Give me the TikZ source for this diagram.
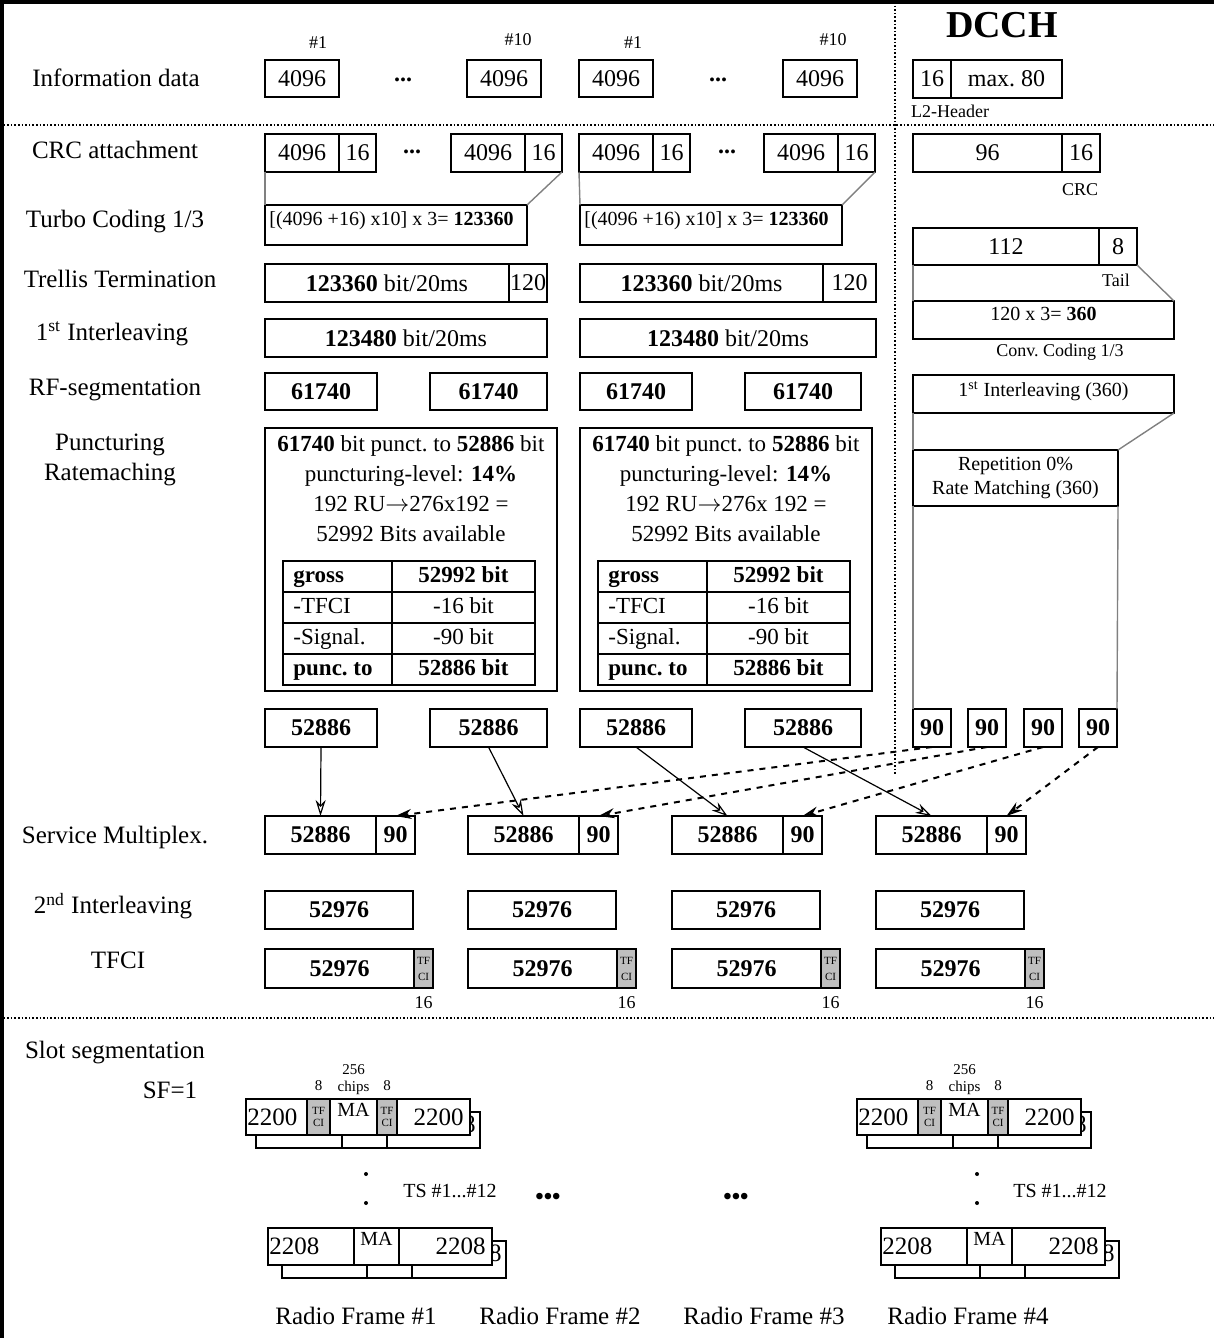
\documentclass[tikz,border=0pt]{standalone}
\usepackage{fontspec}
\setmainfont{Liberation Serif}
\usetikzlibrary{arrows.meta,positioning}

\tikzset{
  cell/.style 2 args={draw,line width=0.9pt,inner sep=0pt,outer sep=0pt,
    minimum width={(#1)*0.5pt},minimum height={(#2)*0.5pt},anchor=north west,
    font=\fontsize{12}{14}\selectfont},
  grey cell/.style={fill=black!25},
  bnum/.style={font=\fontsize{12}{14}\selectfont\bfseries},
  rowlab/.style={font=\fontsize{12.5}{15}\selectfont,align=center},
  tiny lab/.style={font=\fontsize{9}{10}\selectfont,inner sep=1pt},
  mini lab/.style={font=\fontsize{7.5}{8.5}\selectfont,inner sep=1pt,align=center},
  tf lab/.style={font=\fontsize{5.5}{6}\selectfont,align=center},
  note/.style={font=\fontsize{10}{12}\selectfont,inner sep=1pt,align=center},
  tabtxt/.style={font=\fontsize{11.5}{13}\selectfont,text height=8pt,text depth=2.5pt},
  slotnum/.style={font=\fontsize{12.5}{14}\selectfont,inner sep=0pt},
  guide/.style={draw=black!50,line width=0.7pt},
  sepline/.style={densely dotted,line width=0.8pt},
  flow/.style={-{Stealth[open,length=8pt,width=5pt]},line width=0.6pt},
  sig/.style={flow,dashed,line width=1pt}
}

\begin{document}
\begin{tikzpicture}[x=0.5pt,y=-0.5pt]
\useasboundingbox (0,0) rectangle (1214,1338);
% frame and dotted separators
\draw[line width=1.6pt] (2,1338) -- (2,2) -- (1214,2);
\draw[sepline] (0,125) -- (1214,125);
\draw[sepline] (0,1018) -- (1214,1018);
\draw[sepline] (895,2) -- (895,775);

% row labels
\node[rowlab] (l-info) at (116,78) {Information data};
\node[rowlab] (l-crc) at (115,150) {CRC attachment};
\node[rowlab] (l-turbo) at (115,222) {Turbo Coding 1/3};
\node[rowlab] (l-trel) at (120,279) {Trellis Termination};
\node[rowlab] (l-int1) at (112,334) {1\textsuperscript{st} Interleaving};
\node[rowlab] (l-rf) at (115,390) {RF-segmentation};
\node[rowlab] (l-punc) at (110,460) {Puncturing\\Ratemaching};
\node[rowlab] (l-mux) at (115,837) {Service Multiplex.};
\node[rowlab] (l-int2) at (113,906) {2\textsuperscript{nd} Interleaving};
\node[rowlab] (l-tfci) at (118,960) {TFCI};
\node[rowlab] (l-slot) at (115,1053) {Slot segmentation};
\node[rowlab] (l-sf) at (170,1090) {SF=1};

% information data and crc
\foreach \n/\x/\nr/\hx/\hy in {a1/265/1/318/43, a2/467/10/518/40, b1/579/1/633/43, b2/783/10/833/40}{
  \node[cell={74}{37}] (info-\n) at (\x,60) {4096};
  \node[tiny lab] (no-\n) at (\hx,\hy) {\#\nr};
}
\node[bnum] (dots-a) at (403,80) {...};
\node[bnum] (dots-b) at (718,80) {...};
\foreach \n/\x in {a1/265, a2/451, b1/579, b2/764}{
  \node[cell={74}{38}] (crc-\n) at (\x,134) {4096};
  \node[cell={37}{38},right=0pt of crc-\n] (crcx-\n) {16};
}
\node[bnum] (dots-c) at (412,152) {...};
\node[bnum] (dots-d) at (727,152) {...};

% two turbo coded chains
\foreach \c/\x/\w/\t/\ru in {a/265/244/38/{276x192}, b/580/243/53/{276x 192}}{
  \node[cell={262}{40}] (turbo-\c) at (\x,205) {};
  \node[note,anchor=north west] (turbo-\c-txt) at ([xshift=1pt,yshift=-2pt]turbo-\c.north west) {[(4096 +16) x10] x 3= \textbf{123360}};
  \node[cell={\w}{38}] (trel-\c) at (\x,264) {\textbf{123360} bit/20ms};
  \node[cell={\t}{38},right=0pt of trel-\c] (trelx-\c) {120};
  \node[cell={\w+\t}{38}] (int1-\c) at (\x,319) {\textbf{123480} bit/20ms};
  \node[cell={292}{263}] (punc-\c) at (\x,428) {};
  \node[anchor=north,align=center,font=\fontsize{11.5}{15}\selectfont,inner sep=1pt] (punc-\c-txt) at ([yshift=-2.5pt]punc-\c.north)
    {\textbf{61740} bit punct.\ to \textbf{52886} bit\\ puncturing-level: \textbf{14\%}\\ 192 RU$\rightarrow$\ru{} =\\ 52992 Bits available};
  \foreach \lft/\rgt [count=\k] in {{\textbf{gross}}/{\textbf{52992 bit}}, -TFCI/-16 bit, -Signal./-90 bit, {\textbf{punc.\ to}}/{\textbf{52886 bit}}}{
    \node[cell={109}{31}] (tl-\c\k) at ({\x+18},{530+31*\k}) {};
    \node[tabtxt,anchor=west,inner sep=0pt] (tlt-\c\k) at ([xshift=5pt]tl-\c\k.west) {\lft};
    \node[cell={143}{31},tabtxt,right=0pt of tl-\c\k] (tr-\c\k) {\rgt};
  }
}
\draw[guide] (crc-a1.south west) -- (turbo-a.north west);
\draw[guide] (crcx-a2.south east) -- (turbo-a.north east);
\draw[guide] (crc-b1.south west) -- (turbo-b.north west);
\draw[guide] (crcx-b2.south east) -- (turbo-b.north east);

% radio frame segmentation and punctured blocks
\foreach \i/\x/\w in {1/265/112, 2/430/117, 3/580/112, 4/745/116}{
  \node[cell={\w}{37},bnum] (rf\i) at (\x,373) {61740};
  \node[cell={\w}{38},bnum] (p\i) at (\x,709) {52886};
}

% DCCH
\node[font=\fontsize{19}{22}\selectfont\bfseries] (dcch) at (1002,25) {DCCH};
\node[cell={38}{38}] (hdr) at (913,60) {16};
\node[cell={111}{38},right=0pt of hdr] (hdr-pay) {max.\ 80};
\node[tiny lab] (hdr-lab) at (950,111) {L2-Header};
\node[cell={149}{38}] (dcrc) at (913,134) {96};
\node[cell={38}{38},right=0pt of dcrc] (dcrcx) {16};
\node[tiny lab] (dcrc-lab) at (1080,190) {CRC};
\node[cell={186}{37}] (dtail) at (913,228) {112};
\node[cell={38}{37},right=0pt of dtail] (dtailx) {8};
\node[tiny lab] (dtail-lab) at (1116,280) {Tail};
\node[cell={261}{38}] (conv) at (913,301) {};
\node[note,anchor=north] (conv-txt) at ([yshift=-2pt]conv.north) {120 x 3= \textbf{360}};
\node[tiny lab] (conv-lab) at (1060,352) {Conv.\ Coding 1/3};
\node[cell={261}{38}] (dint) at (913,375) {};
\node[note,anchor=north] (dint-txt) at ([yshift=-2pt]dint.north) {1\textsuperscript{st} Interleaving (360)};
\node[cell={205}{56},note] (drm) at (913,450) {Repetition 0\%\\Rate Matching (360)};
\foreach \i/\x in {1/913, 2/968, 3/1024, 4/1079}{
  \node[cell={38}{38},bnum] (d\i) at (\x,709) {90};
}
\draw[guide] (dtail.south west) -- (conv.north west);
\draw[guide] (dtailx.south east) -- (conv.north east);
\draw[guide] (dint.south west) -- (drm.north west);
\draw[guide] (dint.south east) -- (drm.north east);
\draw[guide] (drm.south west) -- (d1.north west);
\draw[guide] (drm.south east) -- (d4.north east);

% multiplex, 2nd interleaving, tfci
\foreach \i/\x in {1/265, 2/468, 3/672, 4/876}{
  \node[cell={111}{38},bnum] (m\i) at (\x,816) {52886};
  \node[cell={39}{38},bnum,right=0pt of m\i] (s\i) {90};
  \node[cell={148}{38},bnum] (il\i) at (\x,891) {52976};
  \node[cell={149}{39},bnum] (tf\i) at (\x,949) {52976};
  \node[cell={19}{39},grey cell,tf lab,right=0pt of tf\i] (tg\i) {TF\\[2pt]CI};
  \node[tiny lab,below=3pt of tg\i] (tn\i) {16};
  \draw[flow] (p\i.south) -- (m\i.north);
  \draw[sig] (d\i.south) -- (s\i.north);
}

% slot segmentation: first slot of frame 1 and frame 4
\foreach \g/\x in {l/246, r/857}{
  \node[cell={86}{36}] (bk1-\g) at ({\x+10},1112) {};
  \node[cell={45}{36},right=0pt of bk1-\g] (bk2-\g) {};
  \node[cell={93}{36},right=0pt of bk2-\g] (bk3-\g) {};
  \node[cell={61}{36},fill=white] (sa-\g) at (\x,1099) {};
  \node[cell={23}{36},grey cell,tf lab,right=0pt of sa-\g] (sb-\g) {TF\\CI};
  \node[cell={47}{36},fill=white,right=0pt of sb-\g] (sc-\g) {};
  \node[cell={20}{36},grey cell,tf lab,right=0pt of sc-\g] (sd-\g) {TF\\CI};
  \node[cell={73}{36},fill=white,right=0pt of sd-\g] (se-\g) {};
  \begin{scope}
    \clip (se-\g.north east) rectangle (bk3-\g.south east);
    \node[slotnum,anchor=east] (bkt-\g) at ([xshift=-2pt,yshift=3pt]bk3-\g.east) {8};
  \end{scope}
  \node[slotnum,anchor=west] (sat-\g) at ([xshift=0.5pt]sa-\g.west) {2200};
  \node[slotnum,anchor=east] (set-\g) at ([xshift=-3pt]se-\g.east) {2200};
  \node[anchor=north,font=\fontsize{10}{12}\selectfont,inner sep=0pt] (sct-\g) at ([yshift=-2pt]sc-\g.north) {MA};
  \node[mini lab,above=3pt of sb-\g] (sbn-\g) {8};
  \node[mini lab,above=3pt of sd-\g] (sdn-\g) {8};
  \node[mini lab,above=1pt of sc-\g] (scn-\g) {256\\chips};
}
% last slot of frame 1 and frame 4
\foreach \g/\x in {l/268, r/881}{
  \node[cell={85}{37}] (bl1-\g) at ({\x+14},1241) {};
  \node[cell={45}{37},right=0pt of bl1-\g] (bl2-\g) {};
  \node[cell={94}{37},right=0pt of bl2-\g] (bl3-\g) {};
  \node[cell={86}{37},fill=white] (ta-\g) at (\x,1228) {};
  \node[cell={45}{37},fill=white,right=0pt of ta-\g] (tb-\g) {};
  \node[cell={93}{37},fill=white,right=0pt of tb-\g] (tc-\g) {};
  \begin{scope}
    \clip (tc-\g.north east) rectangle (bl3-\g.south east);
    \node[slotnum,anchor=east] (blt-\g) at ([xshift=-2pt,yshift=3pt]bl3-\g.east) {8};
  \end{scope}
  \node[slotnum,anchor=west] (tat-\g) at ([xshift=0.5pt]ta-\g.west) {2208};
  \node[slotnum,anchor=east] (tct-\g) at ([xshift=-3pt]tc-\g.east) {2208};
  \node[anchor=north,font=\fontsize{10}{12}\selectfont,inner sep=0pt] (tbt-\g) at ([yshift=-2pt]tb-\g.north) {MA};
}
\foreach \x in {366, 977}{
  \fill (\x,1174) circle (2);
  \fill (\x,1203) circle (2);
}
\node[note] (ts-l) at (450,1191) {TS \#1...\#12};
\node[note] (ts-r) at (1060,1191) {TS \#1...\#12};
\node[bnum] (more-a) at (548,1199) {\textbullet\textbullet\textbullet};
\node[bnum] (more-b) at (736,1199) {\textbullet\textbullet\textbullet};
\foreach \i/\x in {1/356, 2/560, 3/764, 4/968}{
  \node[rowlab] (frame-lab\i) at (\x,1316) {Radio Frame \#\i};
}
\end{tikzpicture}
\end{document}
